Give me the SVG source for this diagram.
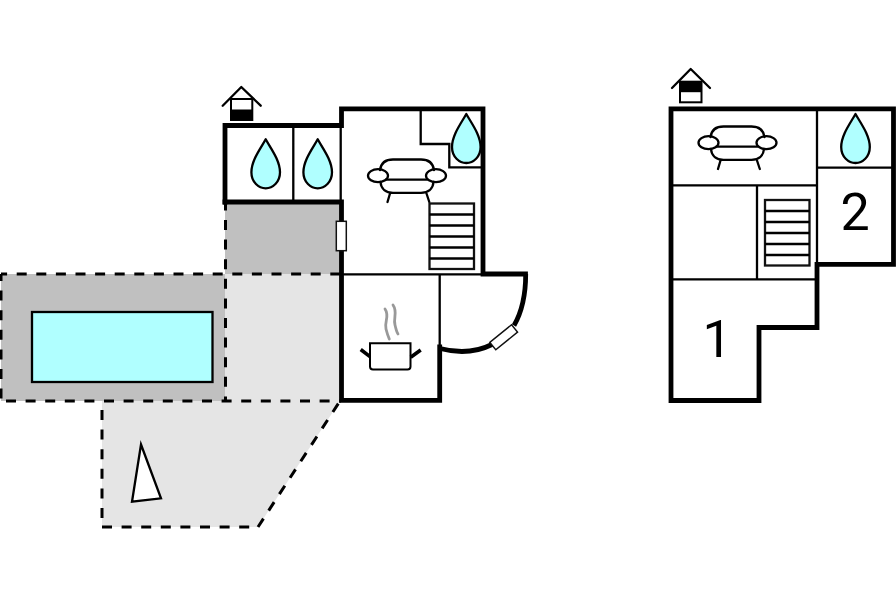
<svg xmlns="http://www.w3.org/2000/svg" width="896" height="597" viewBox="0 0 896 597">
<style>
.wall{fill:none;stroke:#000;stroke-width:4.8;stroke-linejoin:miter;stroke-linecap:square}
.thin{fill:none;stroke:#000;stroke-width:2.300;stroke-linecap:butt}
.dash{fill:none;stroke:#000;stroke-width:3;stroke-dasharray:10 9.6}
.line{fill:none;stroke:#000;stroke-width:2.300;stroke-linecap:round;stroke-linejoin:round}
.white{fill:#fff;stroke:#111;stroke-width:1.500}
.drop{fill:#b0ffff;stroke:#000;stroke-width:2.300;stroke-linejoin:round}
.num{font-family:Roboto,"Liberation Sans",Arial,sans-serif;font-size:52px;fill:#000;text-anchor:middle}
</style>
<defs>
<path id="dropShape" class="drop" d="M0,0C-5,9-14.300,21-14.300,33C-14.300,43-7,49 0,49C7,49 14.300,43 14.300,33C14.300,21 5,9 0,0Z"/>
<g id="sofa">
<path class="line" d="M380,170C381,163 386,159.500 393,159.500H421C428,159.500 433,163 434,170M386,179.700H427M380.500,182C381,189 386,192.800 393,192.800H421C428,192.800 433,189 433.500,182M390,193.500L387.500,202M426.500,193.500L429.300,202"/>
<ellipse class="line" cx="378" cy="175.700" rx="10" ry="6.500"/>
<ellipse class="line" cx="436" cy="175.700" rx="10" ry="6.500"/>
</g>
<g id="stairs">
<rect x="0" y="0" width="44.500" height="65.500" fill="#fff" stroke="#111" stroke-width="2.300"/>
<path class="thin" d="M0,11H44.500M0,22H44.500M0,33H44.500M0,44H44.500M0,55H44.500"/>
</g>
</defs>
<rect width="896" height="597" fill="#fff"/>

<g id="terrace">
<polygon points="102,401 340,401 258,527 102,527" fill="#e5e5e5"/>
<rect x="225" y="274" width="116" height="127" fill="#e5e5e5"/>
<rect x="225" y="202" width="116" height="72" fill="#c0c0c0"/>
<path class="dash" d="M102,410V527"/>
<path class="dash" d="M102,527H258"/>
<path class="dash" d="M258,527L340,401"/>
</g>
<g id="pool">
<rect x="1" y="274" width="224" height="127" fill="#c0c0c0"/>
<rect x="32" y="312" width="180.500" height="70" fill="#b0ffff" stroke="#000" stroke-width="2.300"/>
<path class="dash" stroke-dashoffset="3.900" d="M1,274H341"/>
<path class="dash" stroke-dashoffset="14.600" d="M1,401H341"/>
<path class="dash" stroke-dashoffset="3" d="M1,274V401"/>
<path class="dash" d="M225.500,200.400V401"/>
</g>
<g id="upper-plan">
<path class="wall" d="M225,202V125.500H341.500V108.800H483V274H525.500"/>
<path class="wall" d="M225,202H341.500V274V400.300H439.700V347"/>
<path class="thin" d="M340.700,125V202M293.300,125V202M341,274.300H483M439.700,274V347M420.700,109V144H449.300V167.300H482"/>
<path class="wall" style="stroke-linecap:butt" d="M440,348.500C457,353 476,352.500 492,344.500M514,325.500C523,310 525.700,293 525.700,274"/>
</g>
<g id="outdoor-door"><rect x="489.700" y="332.500" width="28" height="9.500" transform="rotate(-39 503.700 337.300)" class="white"/></g>
<g id="side-door"><rect x="336.300" y="221.300" width="10" height="29.400" class="white"/></g>
<g id="well-left">
<path class="line" d="M222.700,105.700L241.300,87L260.700,105.700"/>
<rect x="231" y="99" width="21.300" height="21" fill="#fff" stroke="#000" stroke-width="2"/>
<rect x="231" y="109.500" width="21.300" height="10.500" fill="#000"/>
</g>
<g id="drop-1"><use href="#dropShape" x="265.700" y="139.300"/></g>
<g id="drop-2"><use href="#dropShape" x="317.700" y="139.300"/></g>
<g id="drop-3"><use href="#dropShape" x="466.300" y="114"/></g>
<g id="sofa-left"><use href="#sofa"/></g>
<g id="stairs-left"><use href="#stairs" x="429.500" y="203.500"/></g>
<g id="pot">
<path d="M385,309C390,316 384,322 386,329C387,333 388,336 389.300,339M393,305C398,312 393,318 395,325C396,329 396.500,332 398,334" fill="none" stroke="#999" stroke-width="2.800" stroke-linecap="round"/>
<path d="M370,343.300H410.500V366.500Q410.500,369.500 407.500,369.500H373Q370,369.500 370,366.500Z" fill="#fff" stroke="#000" stroke-width="2"/>
<path d="M360.700,349.500L370,356.700M420.700,350L410.700,357.300" fill="none" stroke="#000" stroke-width="3.600"/>
</g>
<g id="parasol"><polygon points="141,444.500 161,498.300 132,501.700" fill="#fff" stroke="#000" stroke-width="2.300"/></g>

<g id="lower-plan">
<path class="wall" d="M671,108.800H893.500V264.300H817V327.500H759V400.500H671Z"/>
<path class="thin" d="M817,109V264M817,167.700H893M671,185.300H817M757,185V279.300M671,279.300H817"/>
</g>
<g id="well-right">
<path class="line" d="M672,88L690.700,69L710,88"/>
<rect x="680" y="81.700" width="21.500" height="20.600" fill="#fff" stroke="#000" stroke-width="2"/>
<rect x="680" y="81.700" width="21.500" height="10.500" fill="#000"/>
</g>
<g id="sofa-right"><use href="#sofa" x="330.500" y="-33"/></g>
<g id="drop-4"><use href="#dropShape" x="855.500" y="114"/></g>
<g id="stairs-right"><use href="#stairs" x="765" y="200"/></g>
<g id="label-1"><text class="num" x="717" y="357">1</text></g>
<g id="label-2"><text class="num" x="855" y="230">2</text></g>
</svg>
